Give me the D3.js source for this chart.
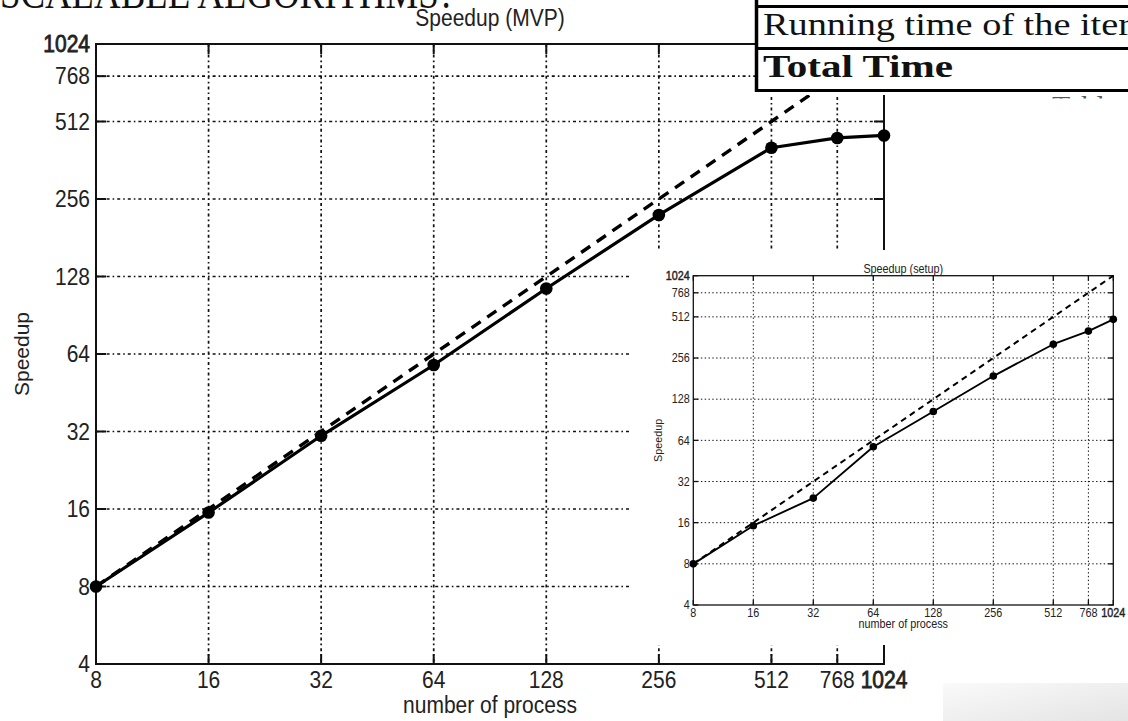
<!DOCTYPE html>
<html><head><meta charset="utf-8">
<script src="https://cdn.jsdelivr.net/npm/d3@7"></script>
<style>
html,body{margin:0;padding:0;background:#fff;}
svg{display:block;}
</style></head><body>
<svg id="c" width="1128" height="721"></svg>
<script>
// Speedup measurements (process count vs. speedup), log2-log2 axes
const processes     = [8, 16, 32, 64, 128, 256, 512, 768, 1024];
const mvpSpeedup    = [8, 15.5, 30.8, 58, 115, 222, 405, 442, 452];
const setupSpeedup  = [8, 15.2, 24.2, 57.5, 104, 189, 323, 403, 491];
const idealSpeedup  = [8, 16, 32, 64, 128, 256, 512, 768, 1024];
const xTickValues   = [8, 16, 32, 64, 128, 256, 512, 768, 1024];
const yTickValues   = [4, 8, 16, 32, 64, 128, 256, 512, 768, 1024];
const mainTitle  = "Speedup (MVP)";
const insetTitle = "Speedup (setup)";
const xLabel = "number of process";
const yLabel = "Speedup";
const tableRows = ["Running time of the iter", "Total Time"];
const headingText = "SCALABLE ALGORITHMS?";
const captionText = "Table 1";

const svg = d3.select("#c");
const SANS = '"Liberation Sans", Arial, Helvetica, sans-serif';
const SERIF = '"Liberation Serif", "Times New Roman", serif';

// slide heading, mostly cut off at the top edge
svg.append("text")
  .attr("x", 0).attr("y", 8)
  .attr("font-family", SERIF).attr("font-size", 44)
  .attr("textLength", 455).attr("lengthAdjust", "spacingAndGlyphs")
  .attr("fill", "#111")
  .text(headingText);

function drawPanel(g, o) {
  const x = d3.scaleLog().base(2).domain([8, 1024]).range([o.x0, o.x1]);
  const y = d3.scaleLog().base(2).domain([4, 1024]).range([o.y1, o.y0]);
  const ink = "#111";

  // dotted grid
  const grid = g.append("g").attr("stroke", ink).attr("stroke-width", o.gridW)
    .attr("stroke-dasharray", o.gridDash).attr("fill", "none");
  grid.selectAll("line.h").data(yTickValues.slice(1, -1)).join("line")
    .attr("x1", o.x0).attr("x2", o.x1).attr("y1", d => y(d)).attr("y2", d => y(d));
  grid.selectAll("line.v").data(xTickValues.slice(1, -1)).join("line")
    .attr("y1", o.y0).attr("y2", o.y1).attr("x1", d => x(d)).attr("x2", d => x(d));

  // axes box
  g.append("rect").attr("x", o.x0).attr("y", o.y0)
    .attr("width", o.x1 - o.x0).attr("height", o.y1 - o.y0)
    .attr("fill", "none").attr("stroke", ink).attr("stroke-width", o.axisW);

  // inward ticks on all four sides
  const t = g.append("g").attr("stroke", ink).attr("stroke-width", o.axisW);
  xTickValues.forEach(v => {
    t.append("line").attr("x1", x(v)).attr("x2", x(v)).attr("y1", o.y1).attr("y2", o.y1 - o.tick);
    t.append("line").attr("x1", x(v)).attr("x2", x(v)).attr("y1", o.y0).attr("y2", o.y0 + o.tick);
  });
  yTickValues.forEach(v => {
    t.append("line").attr("y1", y(v)).attr("y2", y(v)).attr("x1", o.x0).attr("x2", o.x0 + o.tick);
    t.append("line").attr("y1", y(v)).attr("y2", y(v)).attr("x1", o.x1).attr("x2", o.x1 - o.tick);
  });

  const label = (px, py, txt, anchor, bold) => {
    const el = g.append("text")
      .attr("transform", `translate(${px},${py}) scale(1,${o.stretch})`)
      .attr("text-anchor", anchor)
      .attr("font-family", SANS).attr("font-size", o.fs)
      .attr("fill", "#222").text(txt);
    if (bold) el.attr("stroke", "#222").attr("stroke-width", o.fs * 0.035);
    return el;
  };

  // tick labels
  xTickValues.forEach(v => label(x(v), o.y1 + o.xLabOff, v, "middle", v === 1024));
  yTickValues.forEach(v => label(o.x0 - o.yLabGap, y(v) + o.fs * 0.36 * o.stretch, v, "end", v === 1024));

  // titles
  label((o.x0 + o.x1) / 2, o.titleY, o.title, "middle", false);
  label((o.x0 + o.x1) / 2, o.xTitleY, xLabel, "middle", false);
  g.append("text")
    .attr("transform", `translate(${o.yTitleX},${(o.y0 + o.y1) / 2}) rotate(-90)`)
    .attr("text-anchor", "middle").attr("font-family", SANS)
    .attr("font-size", o.fs).attr("fill", "#222").text(yLabel);

  const line = d3.line().x((d, i) => x(processes[i])).y(d => y(d));

  // ideal speedup (dashed)
  g.append("path").datum(idealSpeedup).attr("d", line)
    .attr("fill", "none").attr("stroke", "#000").attr("stroke-width", o.dashW)
    .attr("stroke-dasharray", o.dash);

  // measured speedup
  g.append("path").datum(o.values).attr("d", line)
    .attr("fill", "none").attr("stroke", "#000").attr("stroke-width", o.lineW)
    .attr("stroke-linejoin", "round");
  g.selectAll("circle.pt").data(o.values).join("circle")
    .attr("cx", (d, i) => x(processes[i])).attr("cy", d => y(d))
    .attr("r", o.dotR).attr("fill", "#000");
}

// main chart
const main = svg.append("g");
drawPanel(main, {
  x0: 96, x1: 884, y0: 44, y1: 664,
  fs: 21, stretch: 1.1, tick: 10, axisW: 2, gridW: 1.7, gridDash: "3,3,1.6,3",
  dash: "11,8", dashW: 3.4, lineW: 3.2, dotR: 6.3,
  xLabOff: 24, yLabGap: 6, titleY: 26, xTitleY: 713, yTitleX: 29,
  title: mainTitle, values: mvpSpeedup
});

// table fragment in the upper right
const tbl = svg.append("g");
tbl.append("rect").attr("x", 755).attr("y", 0).attr("width", 380).attr("height", 95).attr("fill", "#fff");
tbl.append("line").attr("x1", 756.5).attr("x2", 756.5).attr("y1", 0).attr("y2", 92).attr("stroke", "#000").attr("stroke-width", 3.5);
[6.5, 48.5, 90.5].forEach(yy =>
  tbl.append("line").attr("x1", 755).attr("x2", 1128).attr("y1", yy).attr("y2", yy).attr("stroke", "#000").attr("stroke-width", 3));
const rowWidths = [368, 190];
tbl.selectAll("text.row").data(tableRows).join("text")
  .attr("x", 763).attr("y", (d, i) => 35 + i * 42)
  .attr("font-family", SERIF).attr("font-size", 31).attr("fill", "#111")
  .attr("font-weight", (d, i) => i === 1 ? "bold" : "normal")
  .attr("textLength", (d, i) => rowWidths[i]).attr("lengthAdjust", "spacingAndGlyphs")
  .text(d => d);

// caption peeking out beneath the table
svg.append("clipPath").attr("id", "capclip")
  .append("rect").attr("x", 1040).attr("y", 93.5).attr("width", 90).attr("height", 5);
svg.append("text").attr("clip-path", "url(#capclip)")
  .attr("x", 1052).attr("y", 116).attr("font-family", SERIF).attr("font-size", 30)
  .attr("fill", "#555").text(captionText);

// inset chart
const inset = svg.append("g");
inset.append("rect").attr("x", 630).attr("y", 250).attr("width", 500).attr("height", 395).attr("fill", "#fff");
drawPanel(inset, {
  x0: 693.3, x1: 1113.3, y0: 275.7, y1: 605,
  fs: 10.8, stretch: 1.1, tick: 5, axisW: 1.3, gridW: 1, gridDash: "1.4,2.4",
  dash: "6,4.5", dashW: 2, lineW: 1.9, dotR: 3.8,
  xLabOff: 12, yLabGap: 3.5, titleY: 273, xTitleY: 628, yTitleX: 662,
  title: insetTitle, values: setupSpeedup
});

// soft grey panel in the lower right corner
const defs = svg.append("defs");
const grad = defs.append("linearGradient").attr("id", "fade").attr("x1", 0).attr("y1", 0).attr("x2", 1).attr("y2", 1);
grad.append("stop").attr("offset", 0).attr("stop-color", "#fafafa");
grad.append("stop").attr("offset", 1).attr("stop-color", "#e4e4e4");
svg.append("rect").attr("x", 943).attr("y", 683).attr("width", 185).attr("height", 38).attr("fill", "url(#fade)");
</script>
</body></html>
